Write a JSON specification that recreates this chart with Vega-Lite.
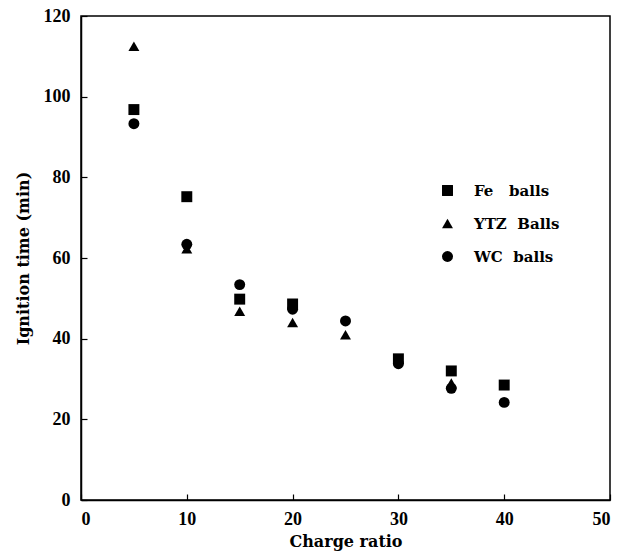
{
  "$schema": "https://vega.github.io/schema/vega-lite/v6.json",
  "autosize": "none",
  "width": 529,
  "height": 484,
  "padding": {"left": 81, "top": 16, "right": 11, "bottom": 56},
  "background": "white",
  "data": {"values": [
    {"ratio": 5, "time": 96.8, "balls": "Fe balls"},
    {"ratio": 5, "time": 112.5, "balls": "YTZ Balls"},
    {"ratio": 5, "time": 93.3, "balls": "WC balls"},
    {"ratio": 10, "time": 75.2, "balls": "Fe balls"},
    {"ratio": 10, "time": 62.3, "balls": "YTZ Balls"},
    {"ratio": 10, "time": 63.4, "balls": "WC balls"},
    {"ratio": 15, "time": 49.8, "balls": "Fe balls"},
    {"ratio": 15, "time": 46.8, "balls": "YTZ Balls"},
    {"ratio": 15, "time": 53.4, "balls": "WC balls"},
    {"ratio": 20, "time": 48.6, "balls": "Fe balls"},
    {"ratio": 20, "time": 44.0, "balls": "YTZ Balls"},
    {"ratio": 20, "time": 47.3, "balls": "WC balls"},
    {"ratio": 25, "time": 41.0, "balls": "YTZ Balls"},
    {"ratio": 25, "time": 44.4, "balls": "WC balls"},
    {"ratio": 30, "time": 35.0, "balls": "Fe balls"},
    {"ratio": 30, "time": 33.8, "balls": "WC balls"},
    {"ratio": 35, "time": 32.0, "balls": "Fe balls"},
    {"ratio": 35, "time": 29.0, "balls": "YTZ Balls"},
    {"ratio": 35, "time": 27.7, "balls": "WC balls"},
    {"ratio": 40, "time": 28.5, "balls": "Fe balls"},
    {"ratio": 40, "time": 24.2, "balls": "WC balls"}
  ]},
  "mark": {"type": "point", "filled": true, "color": "black", "opacity": 1, "size": 120},
  "encoding": {
    "x": {"field": "ratio", "type": "quantitative",
      "scale": {"domain": [0, 50], "nice": false},
      "axis": {"values": [0, 10, 20, 30, 40, 50], "title": "Charge ratio", "grid": false,
        "tickSize": -6, "labelPadding": 16, "titlePadding": 5}},
    "y": {"field": "time", "type": "quantitative",
      "scale": {"domain": [0, 120], "nice": false},
      "axis": {"values": [0, 20, 40, 60, 80, 100, 120], "title": "Ignition time (min)", "grid": false,
        "tickSize": -6, "labelPadding": 17, "titlePadding": 12}},
    "shape": {"field": "balls", "type": "nominal",
      "scale": {"domain": ["Fe balls", "YTZ Balls", "WC balls"], "range": ["square", "triangle-up", "circle"]},
      "legend": {"title": null, "orient": "none", "legendX": 359, "legendY": 167,
        "symbolFillColor": "black", "symbolStrokeColor": "black", "symbolSize": 120, "symbolType": "square",
        "labelExpr": "datum.label == 'Fe balls' ? ' Fe\u00a0\u00a0 balls' : datum.label == 'YTZ Balls' ? 'YTZ\u00a0 Balls' : ' WC\u00a0 balls'",
        "labelFont": "DejaVu Serif", "labelFontSize": 15, "labelFontWeight": "bold", "labelColor": "black",
        "rowPadding": 16, "labelOffset": 19}}
  },
  "config": {
    "view": {"stroke": "black", "strokeWidth": 1.5},
    "axis": {"labelFont": "Liberation Serif", "labelFontSize": 18, "labelFontWeight": "bold", "labelColor": "black",
      "titleFont": "DejaVu Serif", "titleFontSize": 16, "titleFontWeight": "bold", "titleColor": "black",
      "domainColor": "black", "domainWidth": 1.5, "tickColor": "black", "tickWidth": 1.2}
  }
}
